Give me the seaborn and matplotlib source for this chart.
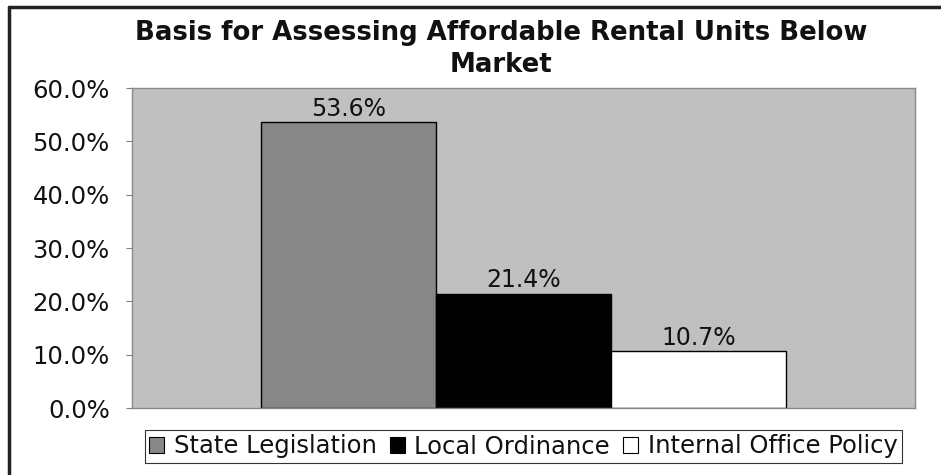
import matplotlib
matplotlib.use("Agg")
import matplotlib.pyplot as plt
import seaborn as sns
import pandas as pd
from matplotlib.ticker import PercentFormatter
from matplotlib.lines import Line2D

# Survey results
series = ["State Legislation", "Local Ordinance", "Internal Office Policy"]
values = [53.6, 21.4, 10.7]
bar_colors = ["#878787", "#000000", "#ffffff"]
yticks = [0, 10, 20, 30, 40, 50, 60]
title = "Basis for Assessing Affordable Rental Units Below\nMarket"

df = pd.DataFrame({"group": [""] * len(series), "basis": series, "share": values})

sns.set_theme(style="white")
plt.rcParams["font.family"] = ["DejaVu Sans"]

W, H = 941, 475
fig = plt.figure(figsize=(W / 100, H / 100), dpi=100)
fig.patch.set_facecolor("white")

# plot area in pixel coordinates
left, top, right, bottom = 132, 88, 915, 408
ax = fig.add_axes([left / W, 1 - bottom / H, (right - left) / W, (bottom - top) / H])
ax.set_facecolor("#c0c0c0")

sns.barplot(data=df, x="group", y="share", hue="basis", hue_order=series,
            palette=bar_colors, width=0.67, gap=0, edgecolor="black",
            linewidth=1.0, saturation=1, ax=ax, legend=False)

ax.set_xlim(-0.5, 0.5)
ax.set_ylim(0, 60)
ax.set_yticks(yticks)
ax.yaxis.set_major_formatter(PercentFormatter(decimals=1))
ax.tick_params(axis="y", labelsize=17.5, length=4, width=0.8, color="#808080",
               pad=12, left=True, labelcolor="#111111")
ax.tick_params(axis="x", bottom=False, labelbottom=False)
ax.set_xlabel("")
ax.set_ylabel("")
for s in ax.spines.values():
    s.set_color("#8a8a8a")
    s.set_linewidth(1.0)

# value labels above each bar
for cont in ax.containers:
    ax.bar_label(cont, fmt="%.1f%%", padding=1, fontsize=17, color="#111111")

fig.text(501 / W, 1 - 49 / H, title, ha="center", va="center", fontsize=18.7,
         fontweight="bold", linespacing=1.3, color="#111111")

handles = [plt.Rectangle((0, 0), 1, 1, facecolor=c, edgecolor="black", linewidth=0.8)
           for c in bar_colors]
leg = fig.legend(handles, series, loc="center", ncol=3,
                 bbox_to_anchor=(523.5 / W, 1 - 446.5 / H), frameon=True,
                 fancybox=False, fontsize=17.5, handlelength=0.6, handleheight=0.6,
                 handletextpad=0.4, columnspacing=0.55, borderpad=0.2,
                 borderaxespad=0, labelcolor="#111111")
leg.get_frame().set_edgecolor("black")
leg.get_frame().set_linewidth(0.8)

# outer frame lines along top and left edges
fig.add_artist(Line2D([9 / W, 1], [1 - 7 / H, 1 - 7 / H], color="#222222", lw=2.5,
                      transform=fig.transFigure))
fig.add_artist(Line2D([9 / W, 9 / W], [0, 1 - 7 / H], color="#222222", lw=2.5,
                      transform=fig.transFigure))

fig.savefig("out.png", dpi=100, facecolor="white")
